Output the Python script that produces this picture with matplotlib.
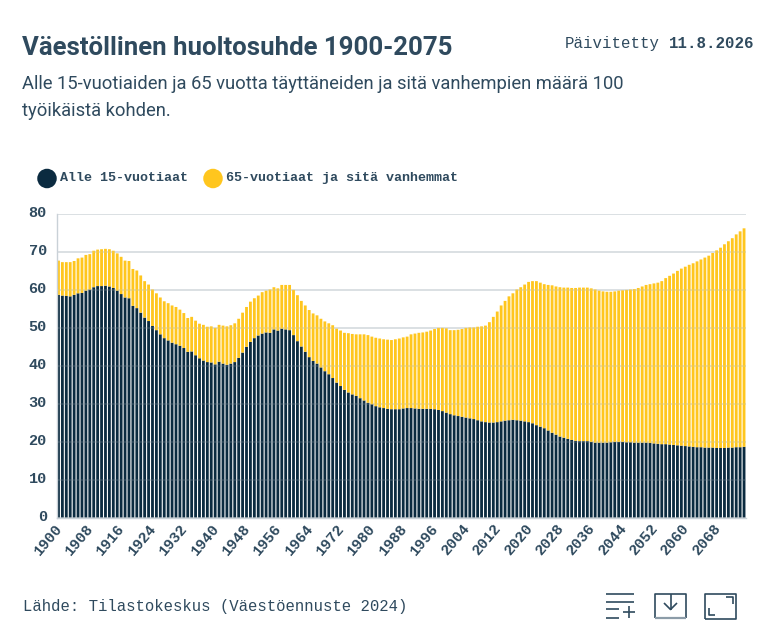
import matplotlib
matplotlib.use('Agg')
import numpy as np
import matplotlib.pyplot as plt
from matplotlib.lines import Line2D
from matplotlib.patches import Ellipse
from matplotlib.transforms import Affine2D, ScaledTranslation

years = np.arange(1900, 2076)

# Alle 15-vuotiaat.
young = [
  58.6, 58.4, 58.3, 58.2, 58.6, 59.0, 59.1, 59.7, 60.0, 60.6,
  60.9, 60.9, 61.0, 60.8, 60.4, 59.7, 58.8, 57.9, 57.7, 55.7,
  55.1, 53.9, 52.6, 51.7, 50.4, 49.3, 48.2, 47.2, 46.6, 46.0,
  45.6, 45.2, 44.6, 43.6, 43.7, 42.7, 41.9, 41.3, 40.9, 40.8,
  40.3, 41.0, 40.5, 40.2, 40.5, 40.9, 42.0, 43.4, 44.9, 46.2,
  47.2, 47.9, 48.4, 48.7, 48.6, 49.5, 49.2, 49.7, 49.5, 49.3,
  48.0, 46.4, 45.0, 43.6, 42.2, 41.2, 40.5, 39.5, 38.5, 37.7,
  36.7, 35.5, 34.6, 33.6, 32.9, 32.4, 32.0, 31.4, 30.8, 30.2,
  29.8, 29.3, 29.0, 28.8, 28.6, 28.5, 28.5, 28.5, 28.7, 28.8,
  28.8, 28.7, 28.6, 28.6, 28.6, 28.6, 28.5, 28.3, 28.0, 27.6,
  27.2, 26.9, 26.7, 26.5, 26.3, 26.1, 25.9, 25.6, 25.3, 25.1,
  25.0, 25.0, 25.1, 25.3, 25.5, 25.6, 25.7, 25.6, 25.5, 25.3,
  25.1, 24.8, 24.3, 23.9, 23.5, 22.9, 22.3, 21.8, 21.3, 21.0,
  20.7, 20.4, 20.2, 20.1, 20.1, 20.1, 19.9, 19.7, 19.7, 19.7,
  19.7, 19.8, 19.9, 19.9, 19.9, 19.8, 19.8, 19.7, 19.7, 19.7,
  19.7, 19.6, 19.5, 19.4, 19.3, 19.3, 19.2, 19.1, 19.0, 18.9,
  18.8, 18.7, 18.6, 18.5, 18.5, 18.4, 18.4, 18.4, 18.3, 18.3,
  18.3, 18.4, 18.4, 18.5, 18.5, 18.6]

# Top of the whole stack.
total = [
  67.6, 67.2, 67.2, 67.2, 67.5, 68.2, 68.4, 69.1, 69.3, 70.2,
  70.5, 70.6, 70.7, 70.6, 70.2, 69.5, 68.6, 67.6, 67.5, 65.4,
  65.0, 63.7, 62.2, 61.3, 60.0, 59.0, 57.9, 56.9, 56.4, 55.8,
  55.4, 54.7, 53.8, 52.5, 52.8, 51.8, 51.0, 50.7, 50.2, 50.3,
  49.9, 50.7, 50.5, 50.3, 50.6, 51.1, 52.3, 53.9, 55.4, 56.8,
  57.7, 58.4, 59.3, 59.7, 60.0, 60.6, 60.3, 61.2, 61.2, 61.2,
  59.9, 58.5, 57.0, 55.8, 54.6, 53.7, 53.2, 52.3, 51.6, 51.1,
  50.6, 49.7, 49.2, 48.6, 48.5, 48.3, 48.2, 48.2, 48.2, 48.0,
  47.6, 47.3, 47.1, 46.9, 46.8, 46.7, 46.9, 47.1, 47.4, 47.6,
  48.2, 48.4, 48.6, 48.7, 48.9, 49.2, 49.6, 49.9, 49.9, 49.8,
  49.3, 49.3, 49.4, 49.6, 49.9, 50.0, 50.0, 50.2, 50.3, 50.5,
  51.4, 52.8, 54.2, 55.8, 57.0, 58.2, 59.0, 60.0, 60.6, 61.3,
  62.0, 62.2, 62.2, 61.8, 61.4, 61.2, 61.1, 60.8, 60.6, 60.5,
  60.5, 60.4, 60.4, 60.5, 60.5, 60.5, 60.3, 60.0, 59.7, 59.5,
  59.4, 59.4, 59.5, 59.7, 59.8, 59.9, 60.0, 60.1, 60.4, 60.8,
  61.2, 61.4, 61.6, 61.8, 62.2, 63.0, 63.6, 64.2, 64.9, 65.5,
  66.0, 66.5, 66.9, 67.4, 67.9, 68.4, 68.9, 69.6, 70.3, 71.0,
  71.9, 72.7, 73.5, 74.5, 75.3, 76.1]

yTicks = [0, 10, 20, 30, 40, 50, 60, 70, 80]
xTicks = years[::8]

darkColor = '#0b2b40'
yellowColor = '#ffc61e'
textColor = '#2f4a5e'
gridColor = '#d9dee2'
sansFont = 'Roboto'
monoFont = 'Liberation Mono'

W, H = 773, 627
fig = plt.figure(figsize=(W / 100, H / 100), dpi=100, facecolor='white')
ax = fig.add_axes([56.5 / W, 1 - 517.5 / H, 689.5 / W, 304 / H])

# Pixel coordinates for everything outside the axes.
px = Affine2D().scale(1 / W, -1 / H).translate(0, 1) + fig.transFigure

def label(x, y, s, size, **kw):
  kw.setdefault('color', textColor)
  kw.setdefault('va', 'baseline')
  fig.text(x / W, 1 - y / H, s, fontsize=size * 0.72, **kw)

def stroke(xs, ys, lw=1.2, color=textColor):
  fig.add_artist(Line2D(xs, ys, transform=px, color=color, lw=lw,
      solid_capstyle='butt'))

# Snapping off, otherwise the bars get uneven widths.
elderly = np.array(total) - np.array(young)
ax.bar(years, young, width=0.72, color=darkColor, lw=0, zorder=2, snap=False)
ax.bar(years, elderly, width=0.72, bottom=young, color=yellowColor, lw=0,
    zorder=2, snap=False)

ax.set_xlim(1899.5, 2075.5)
ax.set_ylim(0, 80)
ax.set_yticks(yTicks)
ax.set_xticks(xTicks)
ax.set_yticklabels([str(v) for v in yTicks], family=monoFont, fontweight='bold',
    fontsize=11, color=textColor)
ax.set_xticklabels([str(v) for v in xTicks], family=monoFont, fontweight='bold',
    fontsize=10.8, color=textColor, rotation=50, ha='right', va='top',
    rotation_mode='anchor')
ax.tick_params(length=0, pad=7)
ax.tick_params(axis='x', pad=3)

# Nudge the tick labels.
shift = ScaledTranslation(0, 2 / 100, fig.dpi_scale_trans)
for t in ax.get_yticklabels():
  t.set_transform(t.get_transform() + shift)
shift = ScaledTranslation(-4 / 100, 0, fig.dpi_scale_trans)
for t in ax.get_xticklabels():
  t.set_transform(t.get_transform() + shift)

# Solid grid behind the bars, and a faint one over them.
ax.grid(axis='y', color=gridColor, lw=1.3, zorder=1)
ax.set_axisbelow(True)
ax.hlines(yTicks[1:], 1899.5, 2075.5, color=gridColor, lw=1.2, alpha=0.16,
    zorder=3)
for side in ['top', 'right']:
  ax.spines[side].set_visible(False)
for side in ['left', 'bottom']:
  ax.spines[side].set_color('#c9d1d7')
  ax.spines[side].set_linewidth(1)

# Header texts.
label(22, 55, 'Väestöllinen huoltosuhde 1900-2075', 25.8, family=sansFont,
    fontweight='bold')
label(565, 48, 'Päivitetty', 15.8, family=monoFont)
label(754, 48, '11.8.2026', 15.8, family=monoFont, fontweight='bold', ha='right')
label(22, 89, 'Alle 15-vuotiaiden ja 65 vuotta täyttäneiden ja sitä vanhempien määrä 100',
    18.36, family=sansFont)
label(22, 116, 'työikäistä kohden.', 18.36, family=sansFont)

# Legend.
fig.add_artist(Ellipse((47, 178.5), 19.5, 19.5, transform=px, color=darkColor, lw=0))
label(60, 181, 'Alle 15-vuotiaat', 13.45, family=monoFont, fontweight='bold')
fig.add_artist(Ellipse((213, 178.5), 19.5, 19.5, transform=px, color=yellowColor, lw=0))
label(226.5, 181, '65-vuotiaat ja sitä vanhemmat', 13.45, family=monoFont,
    fontweight='bold')

# Source.
label(23, 611, 'Lähde: Tilastokeskus (Väestöennuste 2024)', 15.6, family=monoFont)

# Toolbar icons.
stroke([606, 634], [593.5, 593.5])
stroke([606, 634], [601.5, 601.5])
stroke([606, 619], [609, 609])
stroke([606, 619], [617.5, 617.5])
stroke([623, 635], [612, 612])
stroke([629, 629], [606, 618])

stroke([655, 655, 685.5, 685.5], [618, 593.5, 593.5, 618])
stroke([655, 686], [618, 618], lw=1.6, color='#8c9ca8')
stroke([670.5, 670.5], [593.5, 609.5])
stroke([664, 670.5, 677], [603, 609.5, 603])

stroke([705, 705, 735.5, 735.5, 705], [618.5, 593.5, 593.5, 618.5, 618.5])
stroke([726, 732.5, 732.5], [597, 597, 603.5])
stroke([708.5, 708.5, 715], [608, 614.5, 614.5])

fig.savefig('out.png', dpi=100, facecolor='white')
